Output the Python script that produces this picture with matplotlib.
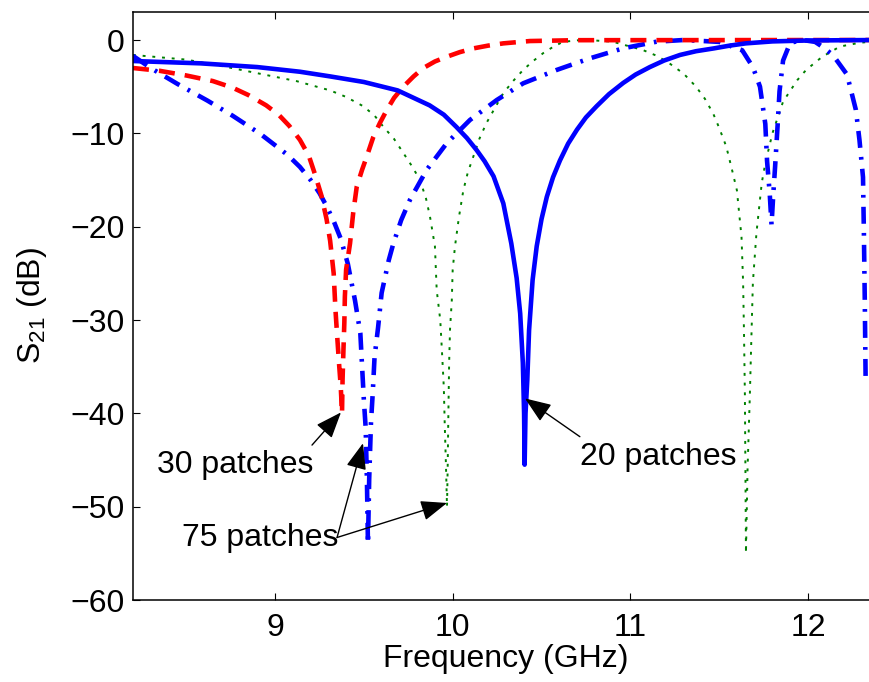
import matplotlib
matplotlib.use('Agg')
import matplotlib.pyplot as plt

plt.rcParams['font.family'] = ['Liberation Sans', 'DejaVu Sans']
plt.rcParams['axes.unicode_minus'] = True

# 20 patches (solid blue)
f20 = [8.20, 8.58, 8.90, 9.14, 9.31, 9.50, 9.69, 9.87, 9.95, 10.02, 10.08,
       10.135, 10.18, 10.23, 10.285, 10.33, 10.36, 10.38, 10.395, 10.402,
       10.405, 10.410, 10.42, 10.43, 10.45, 10.473, 10.50, 10.53, 10.565,
       10.604, 10.65, 10.70, 10.75, 10.81, 10.88, 10.96, 11.03, 11.11, 11.19,
       11.28, 11.37, 11.47, 11.56, 11.65, 11.80, 12.00, 12.40]
s20 = [-2.25, -2.5, -2.9, -3.4, -3.9, -4.5, -5.4, -7.0, -8.0, -9.3, -10.5,
       -11.8, -13.0, -14.6, -17.5, -21.8, -25.5, -29.3, -34.6, -40.0,
       -45.5, -40.0, -36.4, -31.1, -25.7, -22.1, -19.2, -16.8, -14.7,
       -12.9, -11.1, -9.6, -8.3, -7.1, -5.8, -4.6, -3.7, -2.9, -2.2,
       -1.6, -1.2, -0.9, -0.6, -0.36, -0.15, -0.05, 0.0]

# 30 patches (dashed red)
f30 = [8.20, 8.35, 8.50, 8.65, 8.76, 8.85, 8.95, 9.02, 9.08, 9.14, 9.19, 9.225,
       9.26, 9.29, 9.31, 9.33, 9.34, 9.35, 9.36, 9.37, 9.377, 9.38, 9.385,
       9.39, 9.393, 9.40, 9.422, 9.44, 9.46, 9.49, 9.516, 9.553, 9.59, 9.629,
       9.67, 9.722, 9.78, 9.835, 9.90, 9.966, 10.04, 10.116, 10.20, 10.285,
       10.435, 10.70, 12.40]
s30 = [-3.0, -3.3, -3.8, -4.4, -5.1, -5.9, -7.0, -8.0, -9.2, -10.7, -12.4, -14.4,
       -16.6, -19.2, -21.5, -25.0, -28.9, -31.8, -34.6, -37.2, -40.0, -36.4, -33.2,
       -30.3, -27.5, -24.6, -21.8, -18.5, -15.7, -13.9, -12.5, -10.4, -8.9, -7.5,
       -6.2, -5.0, -3.9, -3.0, -2.3, -1.8, -1.3, -0.9, -0.6, -0.36,
       -0.11, -0.02, 0.0]

# 75 patches (dash-dot blue)
f75a = [8.20, 8.30, 8.45, 8.62, 8.76, 8.92, 9.07, 9.14, 9.20, 9.25, 9.29, 9.33,
        9.37, 9.41, 9.45, 9.48, 9.49, 9.50, 9.51, 9.517, 9.523, 9.53, 9.54,
        9.55, 9.56, 9.58, 9.60, 9.64, 9.666, 9.71, 9.76, 9.854, 9.966, 10.097,
        10.248, 10.397, 10.585, 10.773, 10.96, 11.148, 11.30, 11.50, 11.63,
        11.69, 11.73, 11.76, 11.77, 11.785, 11.795, 11.805, 11.815, 11.83,
        11.84, 11.86, 11.90, 11.97, 12.04, 12.08, 12.14, 12.22, 12.27, 12.29,
        12.31, 12.315, 12.32, 12.325]
s75a = [-1.7, -3.0, -4.7, -6.5, -8.1, -10.1, -12.3, -13.6, -15.0, -16.4, -17.8,
        -19.4, -21.3, -24.0, -27.9, -31.4, -35.0, -38.6, -41.5, -47.0, -54.0,
        -47.0, -41.0, -37.8, -34.0, -30.8, -27.1, -23.6, -21.8, -19.3, -17.1,
        -13.9, -11.07, -8.57, -6.43, -4.64, -3.21, -1.96, -0.89, -0.18, 0.0,
        -0.2, -1.1, -2.9, -5.0, -9.0, -13.0, -16.5, -19.8, -16.5, -13.6, -8.9,
        -5.5, -2.2, -0.3, 0.0, -0.2, -0.7, -1.6, -3.7, -7.5, -10.7, -14.7,
        -20.7, -27.9, -36.8]

# 75 patches (dotted green)
f75b = [8.20, 8.26, 8.50, 8.73, 8.95, 9.12, 9.31, 9.40, 9.497, 9.56, 9.61, 9.67,
        9.722, 9.77, 9.816, 9.85, 9.872, 9.90, 9.91, 9.93, 9.94, 9.95, 9.955,
        9.962, 9.968, 9.972, 9.975, 9.98, 9.985, 9.995, 10.00, 10.013, 10.035,
        10.06, 10.085, 10.116, 10.15, 10.19, 10.24, 10.285, 10.34, 10.397,
        10.45, 10.51, 10.56, 10.62, 10.72, 10.80, 10.90, 10.98, 11.07, 11.15,
        11.22, 11.30, 11.37, 11.42, 11.467, 11.50, 11.54, 11.57, 11.60, 11.626,
        11.635, 11.64, 11.645, 11.648, 11.651, 11.66, 11.673, 11.68, 11.69,
        11.71, 11.74, 11.76, 11.80, 11.86, 11.94, 11.99, 12.08, 12.18, 12.29,
        12.40]
s75b = [-1.6, -1.7, -2.1, -2.9, -3.75, -4.4, -5.4, -6.1, -7.1, -8.1, -9.3, -10.6,
        -12.1, -13.5, -15.0, -17.0, -18.9, -22.1, -26.8, -30.0, -33.5, -37.2,
        -41.0, -45.5, -50.0, -45.5, -41.0, -34.6, -31.0, -27.9, -24.6, -22.1,
        -19.0, -16.1, -14.2, -12.5, -10.6, -8.9, -7.2, -5.7, -4.4, -3.2, -2.3,
        -1.4, -0.8, -0.2, 0.0, -0.05, -0.18, -0.6, -1.07, -1.7, -2.5, -3.6,
        -5.0, -6.3, -7.9, -9.4, -11.4, -13.7, -16.1, -21.1, -26.0, -31.4,
        -38.0, -46.0, -55.0, -46.0, -38.0, -33.0, -26.0, -20.7, -15.3, -13.2,
        -10.0, -6.6, -4.3, -3.2, -1.8, -0.7, -0.3, -0.1]

xticks = [9, 10, 11, 12]
yticks = [-60, -50, -40, -30, -20, -10, 0]

fig = plt.figure(figsize=(8.69, 6.82), dpi=100)
ax = fig.add_axes([0.1530, 0.1202, 0.8585, 0.8622])

ax.plot(f75b, s75b, color=(0, 0.5, 0), lw=1.4, dashes=(1.5, 3.5))
ax.plot(f75a, s75a, color='b', lw=3.3, dashes=(3.7, 2.0, 0.6, 2.0))
ax.plot(f30, s30, color='r', lw=3.3, dashes=(3.5, 2.2))
ax.plot(f20, s20, color='b', lw=3.3)

ax.set_xlim(8.2, 12.4)
ax.set_ylim(-60, 3)
ax.set_xticks(xticks)
ax.set_yticks(yticks)
ax.tick_params(direction='in', length=5, width=0.8, top=True, right=True,
               labelsize=23)
ax.tick_params(axis='x', pad=9)
ax.tick_params(axis='y', pad=6)
for s in ax.spines.values():
    s.set_linewidth(1.1)

ax.set_xlabel('Frequency (GHz)', fontsize=23, labelpad=1)
ax.set_ylabel(r'S$_\mathregular{21}$ (dB)', fontsize=23, labelpad=15)

arrow = dict(arrowstyle='-|>,head_length=0.9,head_width=0.35', color='k',
             lw=1.0, mutation_scale=18, shrinkA=0, shrinkB=0)
ax.text(8.336, -45.55, '30 patches', fontsize=23, ha='left', va='center')
ax.annotate('', xy=(9.371, -39.9), xytext=(9.208, -43.4), arrowprops=arrow)
ax.text(8.477, -53.4, '75 patches', fontsize=23, ha='left', va='center')
ax.annotate('', xy=(9.495, -43.2), xytext=(9.349, -53.3), arrowprops=arrow)
ax.annotate('', xy=(9.968, -49.6), xytext=(9.349, -53.3), arrowprops=arrow)
ax.text(10.716, -44.7, '20 patches', fontsize=23, ha='left', va='center')
ax.annotate('', xy=(10.407, -38.4), xytext=(10.716, -42.5), arrowprops=arrow)

fig.savefig('out.png', dpi=100)
